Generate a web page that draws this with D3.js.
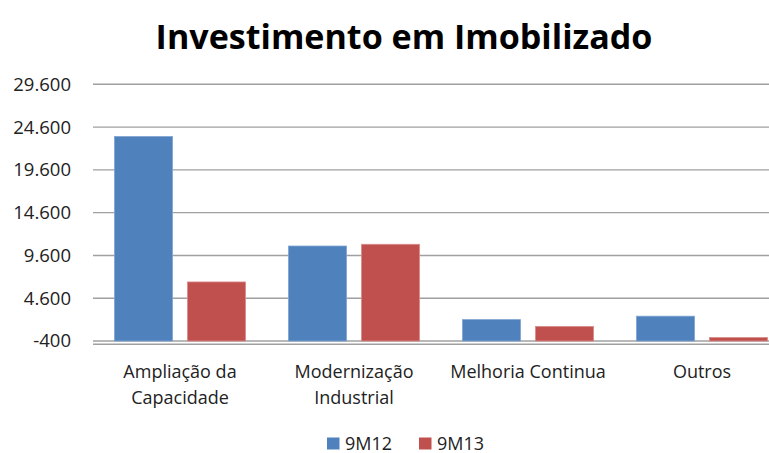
<!DOCTYPE html>
<html><head><meta charset="utf-8">
<script src="https://cdn.jsdelivr.net/npm/d3@7"></script>
<style>body{margin:0;background:#fff;overflow:hidden}svg{display:block}</style>
</head><body>
<script>
const title = "Investimento em Imobilizado";
const categories = [["Ampliação da","Capacidade"],["Modernização","Industrial"],["Melhoria Continua"],["Outros"]];
const seriesNames = ["9M12","9M13"];
const values9M12 = [23500, 10700, 2100, 2500];
const values9M13 = [6500, 10900, 1300, 0];
const tickValues = [-400, 4600, 9600, 14600, 19600, 24600, 29600];
const colors = ["#4F81BD","#C0504D"];

(function(){
const W = 769, H = 453;
const svg = d3.select("body").append("svg").attr("width", W).attr("height", H);
const font = "'Open Sans', sans-serif";

const pLeft = 93, pRight = 789, pTop = 84.3, pBottom = 341;
const y = d3.scaleLinear().domain([-400, 29600]).range([pBottom, pTop]);
const catIdx = categories.map((d,i)=>i);
const x0 = d3.scaleBand().domain(catIdx).range([pLeft, pRight]).paddingInner(0.247).paddingOuter(0.1235);
const x1 = d3.scaleBand().domain([0,1]).range([0, x0.bandwidth()]).paddingInner(0.2055).paddingOuter(0);

// gridlines
svg.append("g").selectAll("line").data(tickValues).join("line")
  .attr("x1", pLeft).attr("x2", W).attr("y1", d=>y(d)).attr("y2", d=>y(d))
  .attr("stroke", "#a0a0a0").attr("stroke-width", 1.4);
// axis line (double)
svg.append("line").attr("x1", pLeft).attr("x2", W).attr("y1", y(-400)+3.3).attr("y2", y(-400)+3.3)
  .attr("stroke", "#a0a0a0").attr("stroke-width", 1.4);

// y axis labels via d3 axis
const yAxis = d3.axisLeft(y).tickValues(tickValues).tickSize(0).tickPadding(0)
  .tickFormat(d => d3.format(",")(d).replace(/,/g, ".").replace("\u2212", "-"));
const ga = svg.append("g").attr("transform", `translate(71,0)`).call(yAxis);
ga.select(".domain").remove();
ga.selectAll("text").attr("font-family", font).attr("font-size", 18.5).attr("fill", "#222");

// bars
const data = catIdx.map(i => [values9M12[i], values9M13[i]]);
const groups = svg.append("g").selectAll("g").data(data).join("g")
  .attr("transform", (d,i)=>`translate(${x0(i)},0)`);
groups.selectAll("rect").data(d=>d.map((v,s)=>({v,s}))).join("rect")
  .attr("x", d=>x1(d.s)).attr("width", x1.bandwidth())
  .attr("y", d=>y(d.v)).attr("height", d=>y(-400)-y(d.v))
  .attr("fill", d=>colors[d.s])
  .attr("stroke", d=>d.s===0?"#7fa3d1":"#d98a88").attr("stroke-width", 0.8);

// category labels
const cl = svg.append("g").selectAll("text").data(categories).join("text")
  .attr("x", (d,i)=>x0(i)+x0.bandwidth()/2).attr("y", 378)
  .attr("text-anchor", "middle").attr("font-family", font).attr("font-size", 18).attr("fill", "#222");
cl.selectAll("tspan").data(d=>d).join("tspan")
  .attr("x", function(){return this.parentNode.getAttribute("x");})
  .attr("dy", (d,i)=>i===0?0:26).text(d=>d);

// title
const t = svg.append("text").attr("x", 404).attr("y", 49).attr("text-anchor", "middle")
  .attr("font-family", font).attr("font-weight", "bold").attr("font-size", 34).attr("fill", "#000").text(title);
const tw = t.node().getComputedTextLength();
t.attr("font-size", 34 * 497 / tw);

// legend
const legendX = [327, 419];
const lg = svg.append("g").selectAll("g").data(seriesNames).join("g")
  .attr("transform", (d,i)=>`translate(${legendX[i]},437.5)`);
lg.append("rect").attr("width", 12.5).attr("height", 12).attr("fill", (d,i)=>colors[i]);
lg.append("text").attr("x", 18).attr("y", 12).attr("font-family", font).attr("font-size", 18)
  .attr("fill", "#222").text(d=>d);
})();
</script>
</body></html>
